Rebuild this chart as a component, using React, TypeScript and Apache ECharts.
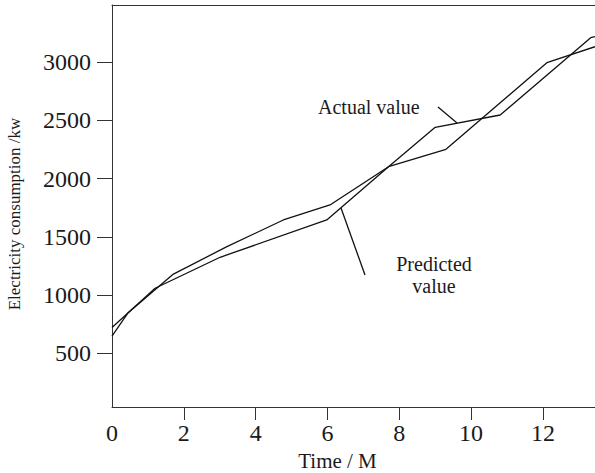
import React, { useEffect, useRef } from "react";
import * as echarts from "echarts";

// Data
const actualTime = [0, 0.45, 1.71, 3.2, 4.77, 6.07, 7.7, 9.0, 10.81, 13.33, 13.45];
const actualValue = [649, 849, 1181, 1416, 1645, 1774, 2102, 2440, 2546, 3209, 3218];
const predictedTime = [0, 1.2, 3.01, 5.98, 7.7, 9.3, 12.11, 13.45];
const predictedValue = [722, 1059, 1325, 1645, 2102, 2252, 2995, 3132];
const xTickLabels = [0, 2, 4, 6, 8, 10, 12];
const xTickMarks = [2, 4, 6, 8, 10, 12];
const yTickLabels = [500, 1000, 1500, 2000, 2500, 3000];

const FONT = '"Liberation Serif", "Times New Roman", serif';
const INK = "#1a1a1a";
const AXIS = "#333";

export default function App() {
  const ref = useRef<HTMLDivElement>(null);

  useEffect(() => {
    if (!ref.current) return;
    const chart = echarts.init(ref.current, undefined, { renderer: "svg" });
    const actual = actualTime.map((t, i) => [t, actualValue[i]]);
    const predicted = predictedTime.map((t, i) => [t, predictedValue[i]]);
    const plain = (v: number) => String(v);

    chart.setOption({
      animation: false,
      backgroundColor: "#fff",
      grid: { left: 112, right: 0, top: 5, bottom: 66, containLabel: false, outerBoundsMode: "none" },
      xAxis: [
        {
          type: "value",
          min: 0,
          max: 13.45,
          position: "bottom",
          splitLine: { show: false },
          axisLine: { show: true, onZero: false, lineStyle: { color: AXIS, width: 1 } },
          axisTick: { show: true, customValues: xTickMarks, length: 13, inside: false, lineStyle: { color: AXIS, width: 1 } },
          axisLabel: { customValues: xTickLabels, formatter: plain, margin: 14, fontSize: 24, fontFamily: FONT, color: INK },
        },
        {
          type: "value",
          min: 0,
          max: 13.45,
          position: "top",
          splitLine: { show: false },
          axisLine: { show: true, onZero: false, lineStyle: { color: AXIS, width: 1 } },
          axisTick: { show: false },
          axisLabel: { show: false },
        },
      ],
      yAxis: {
        type: "value",
        min: 40,
        max: 3490,
        splitLine: { show: false },
        axisLine: { show: true, onZero: false, lineStyle: { color: AXIS, width: 1 } },
        axisTick: { show: true, customValues: yTickLabels, length: 15, inside: false, lineStyle: { color: AXIS, width: 1 } },
        axisLabel: { customValues: yTickLabels, formatter: plain, margin: 21, fontSize: 24, fontFamily: FONT, color: INK },
      },
      series: [
        {
          name: "Actual value",
          type: "line",
          data: actual,
          symbol: "none",
          lineStyle: { color: "#111", width: 1.3 },
        },
        {
          name: "Predicted value",
          type: "line",
          data: predicted,
          symbol: "none",
          lineStyle: { color: "#111", width: 1.3 },
        },
      ],
      graphic: [
        {
          type: "text",
          x: 14,
          y: 214,
          rotation: Math.PI / 2,
          style: { text: "Electricity consumption /kw", fontSize: 17, fontFamily: FONT, fill: INK, align: "center", verticalAlign: "middle" },
        },
        {
          type: "text",
          x: 337.5,
          y: 461,
          style: { text: "Time / M", fontSize: 21, fontFamily: FONT, fill: INK, align: "center", verticalAlign: "middle" },
        },
        {
          type: "text",
          x: 318,
          y: 106.5,
          style: { text: "Actual value", fontSize: 20, fontFamily: FONT, fill: INK, align: "left", verticalAlign: "middle" },
        },
        {
          type: "text",
          x: 434,
          y: 274.5,
          style: { text: "Predicted\nvalue", fontSize: 20, lineHeight: 22, fontFamily: FONT, fill: INK, align: "center", verticalAlign: "middle" },
        },
        {
          type: "line",
          shape: { x1: 438, y1: 107, x2: 457, y2: 123 },
          style: { stroke: "#111", lineWidth: 1.3 },
        },
        {
          type: "line",
          shape: { x1: 341, y1: 208, x2: 365, y2: 275 },
          style: { stroke: "#111", lineWidth: 1.3 },
        },
      ],
    });

    return () => chart.dispose();
  }, []);

  return (
    <div
      ref={ref}
      style={{ position: "fixed", left: 0, top: 0, width: 595, height: 473, background: "#fff" }}
    />
  );
}
